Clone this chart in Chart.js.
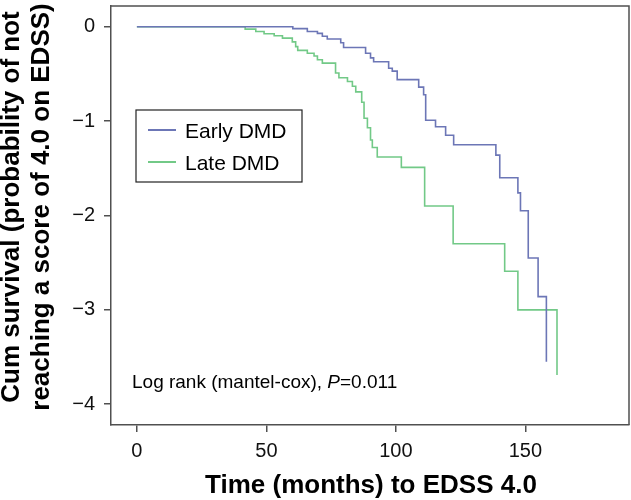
<!DOCTYPE html>
<html>
<head>
<meta charset="utf-8">
<script src="https://cdn.jsdelivr.net/npm/chart.js@4.4.1/dist/chart.umd.min.js"></script>
<style>
	body { margin: 0; background: #fff; }
	#wrap { width: 631px; height: 500px; }
</style>
</head>
<body>
<div id="wrap"><canvas id="chart" width="631" height="500"></canvas></div>
<script>
// step points (time in months, cum survival)
const earlyTimes = [0, 60.2, 65.8, 69.7, 71.6, 73.5, 78.7, 79.8, 88.3, 90.2, 91.4, 97.2, 98.6, 100.5, 108.8, 110.7, 111.5, 115.3, 119.2, 122.3, 138.6, 140.1, 147.1, 148.1, 151.1, 154.9, 158.1];
const earlyCum = [0, -0.02, -0.05, -0.07, -0.10, -0.13, -0.17, -0.22, -0.28, -0.33, -0.37, -0.44, -0.47, -0.56, -0.64, -0.72, -0.99, -1.06, -1.15, -1.25, -1.36, -1.60, -1.76, -1.95, -2.45, -2.86, -3.55];

const lateTimes = [0, 41.8, 45.9, 49.1, 53.0, 56.2, 60.0, 61.3, 62.1, 65.8, 68.4, 69.7, 71.6, 76.7, 78.0, 81.3, 83.2, 84.5, 86.8, 87.7, 89.0, 90.2, 90.9, 92.8, 102.1, 111.1, 122.1, 142.0, 147.1, 162.2];
const lateCum = [0, -0.025, -0.05, -0.074, -0.095, -0.12, -0.16, -0.21, -0.25, -0.28, -0.31, -0.35, -0.385, -0.49, -0.54, -0.58, -0.63, -0.69, -0.80, -0.97, -1.07, -1.20, -1.28, -1.38, -1.49, -1.90, -2.30, -2.59, -3.00, -3.69];

const seriesNames = ['Early DMD', 'Late DMD'];
const xTicks = [0, 50, 100, 150];
const yTicks = [-4, -3, -2, -1, 0];

const xTitle = 'Time (months) to EDSS 4.0';
const yTitle = ['Cum survival (probability of not', 'reaching a score of 4.0 on EDSS)'];

const FONT = 'Liberation Sans, Arial, sans-serif';
const AXIS_COLOR = '#505050';

function toPoints(ts, vs) {
	return ts.map((t, i) => ({x: t, y: vs[i]}));
}

// frame, axis titles, legend box and log-rank note
const extras = {
	id: 'extras',
	afterDraw(chart) {
		const ctx = chart.ctx;
		const a = chart.chartArea;
		ctx.save();
		ctx.strokeStyle = AXIS_COLOR;
		ctx.lineWidth = 1.5;
		ctx.beginPath();
		ctx.moveTo(a.left, a.top);
		ctx.lineTo(a.right, a.top);
		ctx.lineTo(a.right, a.bottom);
		ctx.stroke();

		// axis titles
		ctx.fillStyle = '#000';
		ctx.textBaseline = 'alphabetic';
		ctx.textAlign = 'center';
		ctx.font = 'bold 26px ' + FONT;
		ctx.fillText(xTitle, (a.left + a.right) / 2 + 1, 493);
		yTitle.forEach((line, i) => {
			ctx.save();
			ctx.translate(19 + i * 30, 207);
			ctx.rotate(-Math.PI / 2);
			ctx.fillText(line, 0, 0);
			ctx.restore();
		});
		ctx.textAlign = 'left';

		// legend
		const lx = a.left + 25, ly = a.top + 104;
		ctx.strokeStyle = '#222';
		ctx.lineWidth = 1.2;
		ctx.strokeRect(lx, ly, 166, 72);
		ctx.font = '21px ' + FONT;
		chart.data.datasets.forEach((ds, i) => {
			const yy = ly + 20 + i * 32;
			ctx.strokeStyle = ds.borderColor;
			ctx.lineWidth = 2;
			ctx.beginPath();
			ctx.moveTo(lx + 12, yy);
			ctx.lineTo(lx + 40, yy);
			ctx.stroke();
			ctx.fillText(ds.label, lx + 49, yy + 7.5);
		});

		// note
		ctx.font = '19px ' + FONT;
		let x = a.left + 21;
		const by = 388;
		const s1 = 'Log rank (mantel-cox), ';
		ctx.fillText(s1, x, by);
		x += ctx.measureText(s1).width;
		ctx.font = 'italic 19px ' + FONT;
		ctx.fillText('P', x, by);
		x += ctx.measureText('P').width;
		ctx.font = '19px ' + FONT;
		ctx.fillText('=0.011', x, by);
		ctx.restore();
	}
};

new Chart(document.getElementById('chart'), {
	type: 'line',
	data: {
		datasets: [
			{
				label: seriesNames[0],
				data: toPoints(earlyTimes, earlyCum),
				borderColor: '#6c76b6',
				borderWidth: 1.6,
				stepped: 'before',
				pointRadius: 0,
				fill: false
			},
			{
				label: seriesNames[1],
				data: toPoints(lateTimes, lateCum),
				borderColor: '#72c987',
				borderWidth: 1.6,
				stepped: 'before',
				pointRadius: 0,
				fill: false
			}
		]
	},
	options: {
		responsive: false,
		devicePixelRatio: 1,
		animation: false,
		layout: {padding: {top: 6, right: 2, left: 0, bottom: 0}},
		plugins: {
			legend: {display: false},
			tooltip: {enabled: false}
		},
		scales: {
			x: {
				type: 'linear',
				min: -10,
				max: 190,
				afterBuildTicks: (s) => { s.ticks = xTicks.map(v => ({value: v})); },
				afterFit: (s) => { s.height = 75; s.paddingLeft = 0; s.paddingRight = 0; },
				border: {display: true, color: AXIS_COLOR, width: 1.5},
				grid: {drawOnChartArea: false, drawTicks: true, tickLength: 7, color: AXIS_COLOR, lineWidth: 1.5},
				ticks: {color: '#111', padding: 7, font: {family: FONT, size: 20}, maxRotation: 0},
				title: {display: false}
			},
			y: {
				type: 'linear',
				min: -4.22,
				max: 0.22,
				afterBuildTicks: (s) => { s.ticks = yTicks.map(v => ({value: v})); },
				afterFit: (s) => { s.width = 111; s.paddingTop = 0; s.paddingBottom = 0; },
				border: {display: true, color: AXIS_COLOR, width: 1.5},
				grid: {drawOnChartArea: false, drawTicks: true, tickLength: 7, color: AXIS_COLOR, lineWidth: 1.5},
				ticks: {
					color: '#111',
					padding: 9,
					font: {family: FONT, size: 20},
					callback: (v) => v < 0 ? '\u2212' + Math.abs(v) : String(v)
				},
				title: {display: false}
			}
		}
	},
	plugins: [extras]
});
</script>
</body>
</html>
